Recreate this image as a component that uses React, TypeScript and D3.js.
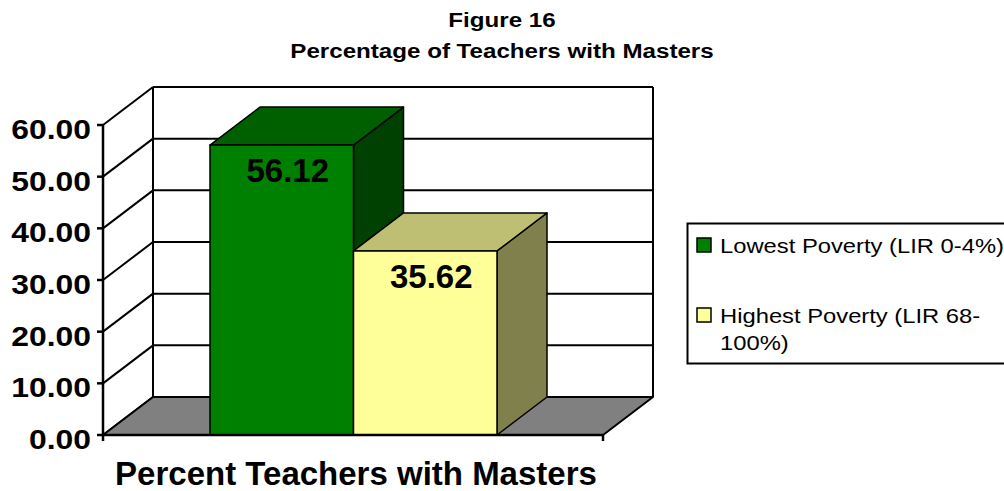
import React from 'react';
import * as d3 from 'd3';

const seriesNames = ['Lowest Poverty (LIR 0-4%)', 'Highest Poverty (LIR 68-100%)'];
const legendLines = [['Lowest Poverty (LIR 0-4%)'], ['Highest Poverty (LIR 68-', '100%)']];
const seriesValues = [56.12, 35.62];
const frontColors = ['#008000', '#FFFF99'];
const topColors = ['#006000', '#BFBF73'];
const sideColors = ['#004000', '#80804C'];
const yTicks = [0, 10, 20, 30, 40, 50, 60];
const categoryLabel = 'Percent Teachers with Masters';
const titleLines = ['Figure 16', 'Percentage of Teachers with Masters'];

const W = 1004;
const H = 491;
// depth of the 3D box
const DX = 50;
const DY = -38;
const font = '"Liberation Sans", Arial, sans-serif';

const App = () => {
  const y = d3.scaleLinear().domain([0, 60]).range([435, 125]);
  const floorX = d3.scaleLinear().domain([0, 1]).range([103, 603]);
  const x = d3.scaleBand().domain(seriesNames).range([210, 497]).padding(0);

  const x0 = floorX(0);
  const x1 = floorX(1);
  const y0 = y(0);
  const bw = x.bandwidth();

  const pts = (arr: number[][]) => arr.map((p) => p.join(',')).join(' ');

  return (
    <svg width={W} height={H} style={{ position: 'absolute', left: 0, top: 0, background: '#fff' }}>
      {/* titles */}
      {titleLines.map((t, i) => (
        <text key={t} transform={`translate(502,${27 + i * 31}) scale(1.15,1)`} textAnchor="middle"
          fontFamily={font} fontWeight="bold" fontSize={21}>{t}</text>
      ))}

      {/* back wall */}
      <g stroke="#000" strokeWidth={2} fill="none">
        {yTicks.map((t) => (
          <line key={'b' + t} x1={x0 + DX} x2={x1 + DX} y1={y(t) + DY} y2={y(t) + DY} />
        ))}
        <line x1={x0 + DX} x2={x0 + DX} y1={y(0) + DY} y2={y(60) + DY} />
        <line x1={x1 + DX} x2={x1 + DX} y1={y(0) + DY} y2={y(60) + DY} />
        {/* side wall lines */}
        {yTicks.map((t) => (
          <line key={'s' + t} x1={x0} y1={y(t)} x2={x0 + DX} y2={y(t) + DY} />
        ))}
      </g>

      {/* floor */}
      <polygon
        points={pts([[x0, y0], [x1, y0], [x1 + DX, y0 + DY], [x0 + DX, y0 + DY]])}
        fill="#808080" stroke="#000" strokeWidth={2} strokeLinejoin="round" />

      {/* bars */}
      {seriesNames.map((s, i) => {
        const bx = x(s) as number;
        const by = y(seriesValues[i]);
        return (
          <g key={s} stroke="#000" strokeWidth={1.5} strokeLinejoin="round">
            <polygon fill={sideColors[i]}
              points={pts([[bx + bw, by], [bx + bw + DX, by + DY], [bx + bw + DX, y0 + DY], [bx + bw, y0]])} />
            <polygon fill={topColors[i]}
              points={pts([[bx, by], [bx + DX, by + DY], [bx + bw + DX, by + DY], [bx + bw, by]])} />
            <rect x={bx} y={by} width={bw} height={y0 - by} fill={frontColors[i]} />
          </g>
        );
      })}
      {seriesNames.map((s, i) => (
        <text key={'l' + s} x={(x(s) as number) + bw / 2 + 6} y={y(seriesValues[i]) + 37}
          textAnchor="middle" fontFamily={font} fontWeight="bold" fontSize={33}>
          {seriesValues[i].toFixed(2)}
        </text>
      ))}

      {/* front axis */}
      <g stroke="#000" strokeWidth={2.5}>
        <line x1={x0} x2={x0} y1={y(0) + 6} y2={y(60)} />
        <line x1={x0} x2={x1} y1={y0} y2={y0} />
        <line x1={x1} x2={x1} y1={y0} y2={y0 + 6} />
        {yTicks.map((t) => (
          <line key={'t' + t} x1={x0 - 6} x2={x0} y1={y(t)} y2={y(t)} />
        ))}
      </g>
      {yTicks.map((t) => (
        <text key={'yl' + t} transform={`translate(91,${y(t) + 14}) scale(1.18,1)`}
          textAnchor="end" fontFamily={font} fontWeight="bold" fontSize={27}>
          {t.toFixed(2)}
        </text>
      ))}

      <text x={356} y={485} textAnchor="middle" fontFamily={font}
        fontWeight="bold" fontSize={33}>{categoryLabel}</text>

      {/* legend */}
      <path d={`M${W + 2},223.5 H687.5 V363.5 H${W + 2}`} fill="none" stroke="#000" strokeWidth={2} />
      {legendLines.map((lines, i) => (
        <g key={'lg' + i}>
          <rect x={697} y={238 + i * 70} width={14} height={14} fill={frontColors[i]}
            stroke="#000" strokeWidth={1.5} />
          {lines.map((ln, j) => (
            <text key={ln} transform={`translate(720,${253 + i * 70 + j * 27}) scale(1.16,1)`}
              fontFamily={font} fontSize={20.5}>{ln}</text>
          ))}
        </g>
      ))}
    </svg>
  );
};

export default App;
